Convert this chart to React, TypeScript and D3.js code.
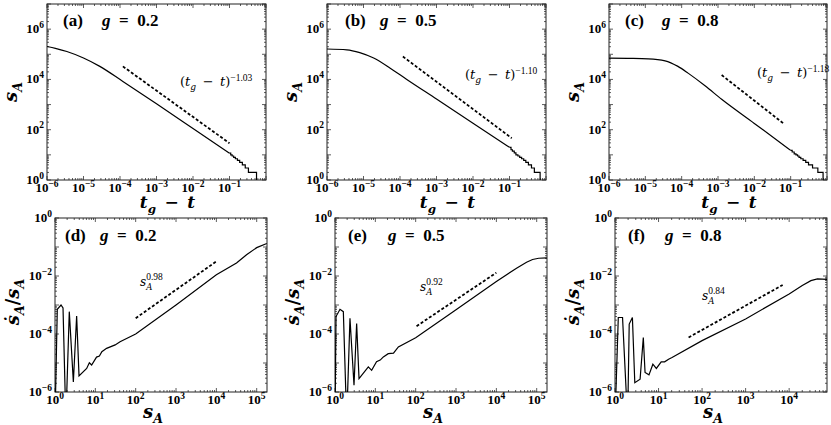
import { useEffect, useRef } from "react"
import * as d3 from "d3"

// ---------- top row: s_A against t_g - t ----------
const tA = [1e-6, 1.7e-6, 3.5e-6, 1e-5, 2.8e-5, 1.2e-4, 1e-3, 1e-2, 0.1]
const sA_a = [2.04e5, 1.72e5, 1.29e5, 7.1e4, 3.3e4, 8.3e3, 1070, 112, 11.7]
const tailT_a = [0.1, 0.108, 0.118, 0.13, 0.145, 0.165, 0.19, 0.225, 0.27, 0.33, 0.55]
const tailS_a = [11.7, 10, 9, 8, 7, 6, 5, 4, 3, 2, 1]

const tB = [1e-6, 3.5e-6, 7.9e-6, 1.9e-5, 5.4e-5, 1.5e-4, 1e-3, 1e-2, 0.1]
const sA_b = [1.62e5, 1.51e5, 1.17e5, 7.1e4, 2.8e4, 1.02e4, 1660, 182, 20]
const tailT_b = [0.1, 0.11, 0.12, 0.135, 0.15, 0.17, 0.19, 0.215, 0.245, 0.28, 0.33, 0.4, 0.48, 0.69]
const tailS_b = [20, 16, 14, 12, 10, 9, 8, 7, 6, 5, 4, 3, 2, 1]

const tC = [1e-6, 3.2e-6, 1.2e-5, 3.5e-5, 7.9e-5, 1.5e-4, 4.4e-4, 1.26e-3, 1e-2, 0.1]
const sA_c = [7.1e4, 6.9e4, 6.6e4, 5.5e4, 3.3e4, 1.78e4, 5.6e3, 1.62e3, 178, 15.1]
const tailT_c = [0.1, 0.11, 0.125, 0.14, 0.155, 0.17, 0.19, 0.22, 0.26, 0.31, 0.4, 0.56, 0.78]
const tailS_c = [15.1, 13, 11, 10, 9, 8, 7, 6, 5, 4, 3, 2, 1]

// dashed power-law guides (end points)
const fitT_a = [1.2e-4, 0.1]
const fitS_a = [3.3e4, 29]
const fitT_b = [1.2e-4, 0.115]
const fitS_b = [8.1e4, 46]
const fitT_c = [1.26e-3, 6.2e-2]
const fitS_c = [1.5e4, 182]

// ---------- bottom row: ds_A/dt / s_A against s_A ----------
const s_d = [1, 1.14, 1.41, 1.58, 1.86, 2.26, 2.85, 3.44, 3.94, 6.1, 7.1, 8.1, 10.7, 12.6, 14.5, 19, 31, 41, 100, 1000, 1e4, 3.16e4, 5.6e4, 1e5, 1.78e5]
const r_d = [1e-7, 7.1e-4, 1.0e-3, 7.9e-4, 1e-7, 5.9e-4, 2.2e-6, 4.2e-4, 3.6e-6, 6.5e-6, 1.02e-5, 8.5e-6, 1.6e-5, 1.74e-5, 2.45e-5, 3.2e-5, 4.2e-5, 5.4e-5, 1.0e-4, 1.0e-3, 1.1e-2, 2.8e-2, 5.4e-2, 9.5e-2, 0.132]

const s_e = [1, 1.06, 1.33, 1.61, 1.95, 2.35, 2.96, 3.44, 3.94, 6.7, 8.1, 10.7, 13.2, 15.8, 20.9, 28.2, 37.2, 100, 1000, 1e4, 3.16e4, 5.6e4, 7.9e4, 1.12e5, 1.78e5]
const r_e = [1e-7, 4.0e-4, 7.1e-4, 5.9e-4, 1e-7, 3.5e-4, 1.7e-6, 2.3e-4, 2.9e-6, 7.4e-6, 5.6e-6, 1.1e-5, 1.26e-5, 1.62e-5, 2.1e-5, 2.2e-5, 3.6e-5, 7.4e-5, 6.8e-4, 6.5e-3, 1.86e-2, 3.0e-2, 3.7e-2, 4.1e-2, 4.2e-2]

const s_f = [1, 1.19, 1.49, 1.95, 2.12, 2.51, 2.85, 3.77, 4.47, 4.9, 6.03, 7.41, 8.91, 11.5, 13.8, 17, 20.4, 100, 1000, 1e4, 2e4, 3.16e4, 4.47e4, 7.4e4]
const r_f = [1e-7, 3.7e-4, 3.7e-4, 1e-7, 2.2e-4, 3.7e-4, 2.1e-6, 2.75e-6, 7.6e-5, 4.7e-6, 3.9e-6, 9.1e-6, 6.5e-6, 1.1e-5, 1.1e-5, 1.35e-5, 1.55e-5, 5.9e-5, 3.3e-4, 2.4e-3, 4.7e-3, 6.9e-3, 7.9e-3, 7.6e-3]

const fitX_d = [100, 1e4]
const fitY_d = [3.5e-4, 3.2e-2]
const fitX_e = [105, 1e4]
const fitY_e = [1.86e-4, 1.3e-2]
const fitX_f = [49, 7.1e3]
const fitY_f = [7.6e-5, 4.9e-3]

const letters = ["a", "b", "c", "d", "e", "f"]
const gValues = ["0.2", "0.5", "0.8"]
const topExponents = ["\u22121.03", "\u22121.10", "\u22121.18"]
const bottomExponents = ["0.98", "0.92", "0.84"]

const FONT_TXT = "'Liberation Serif', 'Times New Roman', serif"
const FONT_MATH = "'DejaVu Serif', serif"

interface Part {
  t: string
  it?: boolean
  shift?: "sub" | "sup"
  size?: number
  family?: string
}

type G = d3.Selection<SVGGElement, unknown, null, undefined>

// text with sub/superscripts made of tspans
function mathText(parent: G, x: number, y: number, parts: Part[], size: number, opts: any = {}) {
  const text = parent
    .append("text")
    .attr("x", x)
    .attr("y", y)
    .attr("font-size", size)
    .attr("font-family", opts.family || FONT_MATH)
    .attr("font-weight", opts.weight || "bold")
    .attr("text-anchor", opts.anchor || "start")
    .attr("fill", "#000")
  let cur = 0
  parts.forEach((p) => {
    const target = p.shift === "sub" ? size * 0.3 : p.shift === "sup" ? -size * 0.42 : 0
    const ts = text
      .append("tspan")
      .attr("dy", target - cur)
      .attr("font-size", p.size || (p.shift ? size * 0.7 : size))
      .attr("font-style", p.it ? "italic" : "normal")
      .text(p.t)
    if (p.family) ts.attr("font-family", p.family)
    cur = target
  })
  return text
}

const App = () => {
  const svgRef = useRef<SVGSVGElement | null>(null)

  useEffect(() => {
    if (!svgRef.current) return
    const svg = d3.select(svgRef.current)
    svg.selectAll("*").remove()
    const root = svg.append("g") as G

    const drawAxes = (
      x0: number,
      x1: number,
      y0: number,
      y1: number,
      xDom: [number, number],
      yDom: [number, number],
      id: string,
    ) => {
      const x = d3.scaleLog().domain(xDom).range([x0, x1])
      const y = d3.scaleLog().domain(yDom).range([y1, y0])
      const g = root.append("g")

      g.append("clipPath")
        .attr("id", id)
        .append("rect")
        .attr("x", x0)
        .attr("y", y0)
        .attr("width", x1 - x0)
        .attr("height", y1 - y0)

      const ticks = g.append("g").attr("stroke", "#333").attr("stroke-width", 0.8)
      const eachTick = (dom: [number, number], fn: (v: number, major: boolean, e: number) => void) => {
        const lo = Math.floor(Math.log10(dom[0]))
        const hi = Math.ceil(Math.log10(dom[1]))
        for (let e = lo; e <= hi; e++) {
          for (let m = 1; m <= 9; m++) {
            const v = m * Math.pow(10, e)
            if (v < dom[0] * 0.999 || v > dom[1] * 1.001) continue
            fn(v, m === 1, e)
          }
        }
      }

      const expLabel = (e: number): Part[] => [
        { t: "10" },
        { t: String(e).replace("-", "\u2212"), shift: "sup", size: 9.5 },
      ]

      eachTick(xDom, (v, major, e) => {
        const len = major ? 4 : 2
        const px = x(v)
        ticks.append("line").attr("x1", px).attr("x2", px).attr("y1", y1).attr("y2", y1 - len)
        ticks.append("line").attr("x1", px).attr("x2", px).attr("y1", y0).attr("y2", y0 + len)
        if (major && v < xDom[1] * 0.999) {
          mathText(g, px, y1 + 12, expLabel(e), 13, { family: FONT_TXT, anchor: "middle" })
        }
      })

      eachTick(yDom, (v, major, e) => {
        const len = major ? 4 : 2
        const py = y(v)
        ticks.append("line").attr("x1", x0).attr("x2", x0 + len).attr("y1", py).attr("y2", py)
        ticks.append("line").attr("x1", x1).attr("x2", x1 - len).attr("y1", py).attr("y2", py)
        if (major && e % 2 === 0) {
          mathText(g, x0 - 3, py + 4, expLabel(e), 13, { family: FONT_TXT, anchor: "end" })
        }
      })

      g.append("rect")
        .attr("x", x0)
        .attr("y", y0)
        .attr("width", x1 - x0)
        .attr("height", y1 - y0)
        .attr("fill", "none")
        .attr("stroke", "#222")
        .attr("stroke-width", 1)

      return { x, y, g }
    }

    const title = (x: number, y: number, gx: number, letter: string, gv: string) => {
      mathText(root, x, y, [{ t: `(${letter})` }], 17, { family: FONT_TXT })
      mathText(root, gx, y, [{ t: "g", it: true }, { t: `\u2002=\u2002${gv}` }], 17, { family: FONT_TXT })
    }

    const EN = "\u2002"

    // ---------- top row ----------
    const topFrames = [
      [47, 266],
      [327, 546],
      [609, 827],
    ]
    const topCurves = [
      { t: tA, s: sA_a, tt: tailT_a, ts: tailS_a, ft: fitT_a, fs: fitS_a },
      { t: tB, s: sA_b, tt: tailT_b, ts: tailS_b, ft: fitT_b, fs: fitS_b },
      { t: tC, s: sA_c, tt: tailT_c, ts: tailS_c, ft: fitT_c, fs: fitS_c },
    ]
    const topNotes = [
      [180, 86],
      [465, 79],
      [757, 77],
    ]
    const topTitles = [
      [63, 102],
      [345, 380],
      [625, 662],
    ]

    topFrames.forEach(([x0, x1], i) => {
      const id = `clip-top-${i}`
      const { x, y } = drawAxes(x0, x1, 4, 180, [1e-6, 1], [1, 1e7], id)
      const c = topCurves[i]
      const plot = root.append("g").attr("clip-path", `url(#${id})`)

      const line = d3
        .line<number>()
        .x((_, k) => x(c.t[k]))
        .y((d) => y(d))
        .curve(d3.curveMonotoneX)
      plot.append("path").attr("d", line(c.s)).attr("fill", "none").attr("stroke", "#000").attr("stroke-width", 1.2)

      const tail = d3
        .line<number>()
        .x((_, k) => x(c.tt[k]))
        .y((d) => y(d))
        .curve(d3.curveStepAfter)
      plot.append("path").attr("d", tail(c.ts)).attr("fill", "none").attr("stroke", "#000").attr("stroke-width", 1.2)

      const fit = d3
        .line<number>()
        .x((_, k) => x(c.ft[k]))
        .y((d) => y(d))
      plot
        .append("path")
        .attr("d", fit(c.fs))
        .attr("fill", "none")
        .attr("stroke", "#000")
        .attr("stroke-width", 1.8)
        .attr("stroke-dasharray", "3,2")

      title(topTitles[i][0], 26, topTitles[i][1], letters[i], gValues[i])

      mathText(
        root,
        topNotes[i][0],
        topNotes[i][1],
        [
          { t: "(" },
          { t: "t", it: true },
          { t: "g", it: true, shift: "sub" },
          { t: `${EN}\u2212${EN}` },
          { t: "t", it: true },
          { t: ")" },
          { t: topExponents[i], shift: "sup", size: 9.5, family: FONT_TXT },
        ],
        13,
        { weight: "normal" },
      )

      // axis labels
      mathText(
        root,
        (x0 + x1) / 2 + 11,
        208,
        [{ t: "t", it: true }, { t: "g", it: true, shift: "sub" }, { t: `${EN}\u2212${EN}` }, { t: "t", it: true }],
        17,
        { anchor: "middle" },
      )
      const yl = root.append("g").attr("transform", `translate(${x0 - 30},92) rotate(-90)`) as G
      mathText(yl, 0, 0, [{ t: "s", it: true }, { t: "A", it: true, shift: "sub" }], 18, { anchor: "middle" })
    })

    // ---------- bottom row ----------
    const bottomFrames = [
      [55, 267, 1.8e5],
      [335, 547, 1.8e5],
      [615, 827, 7.4e4],
    ]
    const bottomCurves = [
      { s: s_d, r: r_d, fx: fitX_d, fy: fitY_d },
      { s: s_e, r: r_e, fx: fitX_e, fy: fitY_e },
      { s: s_f, r: r_f, fx: fitX_f, fy: fitY_f },
    ]
    const bottomNotes = [
      [140, 286],
      [420, 291],
      [702, 300],
    ]
    const bottomTitles = [
      [65, 100],
      [348, 388],
      [628, 665],
    ]

    bottomFrames.forEach(([x0, x1, xmax], i) => {
      const id = `clip-bot-${i}`
      const { x, y } = drawAxes(x0, x1, 218, 392, [1, xmax], [1e-6, 1], id)
      const c = bottomCurves[i]
      const plot = root.append("g").attr("clip-path", `url(#${id})`)

      const line = d3
        .line<number>()
        .x((_, k) => x(c.s[k]))
        .y((d) => y(d))
      plot.append("path").attr("d", line(c.r)).attr("fill", "none").attr("stroke", "#000").attr("stroke-width", 1.2)

      const fit = d3
        .line<number>()
        .x((_, k) => x(c.fx[k]))
        .y((d) => y(d))
      plot
        .append("path")
        .attr("d", fit(c.fy))
        .attr("fill", "none")
        .attr("stroke", "#000")
        .attr("stroke-width", 1.8)
        .attr("stroke-dasharray", "3,2")

      title(bottomTitles[i][0], 241, bottomTitles[i][1], letters[i + 3], gValues[i])

      // s_A^{exp} with stacked sub/sup
      const [nx, ny] = bottomNotes[i]
      const sNode = mathText(root, nx, ny, [{ t: "s", it: true }], 12, { weight: "normal" })
      const w = (sNode.node() as SVGTextElement).getComputedTextLength()
      mathText(root, nx + w, ny + 3.5, [{ t: "A", it: true }], 8.5, { weight: "normal" })
      mathText(root, nx + w, ny - 6, [{ t: bottomExponents[i] }], 9.5, { weight: "normal", family: FONT_TXT })

      mathText(root, (x0 + x1) / 2 - 8, 418, [{ t: "s", it: true }, { t: "A", it: true, shift: "sub" }], 18, {
        anchor: "middle",
      })
      const yl = root.append("g").attr("transform", `translate(${x0 - 36},302) rotate(-90)`) as G
      mathText(
        yl,
        0,
        0,
        [
          { t: "\u1e61", it: true },
          { t: "A", it: true, shift: "sub" },
          { t: "/" },
          { t: "s", it: true },
          { t: "A", it: true, shift: "sub" },
        ],
        18,
        { anchor: "middle" },
      )
    })
  }, [])

  return (
    <svg
      ref={svgRef}
      width={831}
      height={425}
      style={{ position: "absolute", left: 0, top: 0, background: "#fff" }}
    />
  )
}

export default App
